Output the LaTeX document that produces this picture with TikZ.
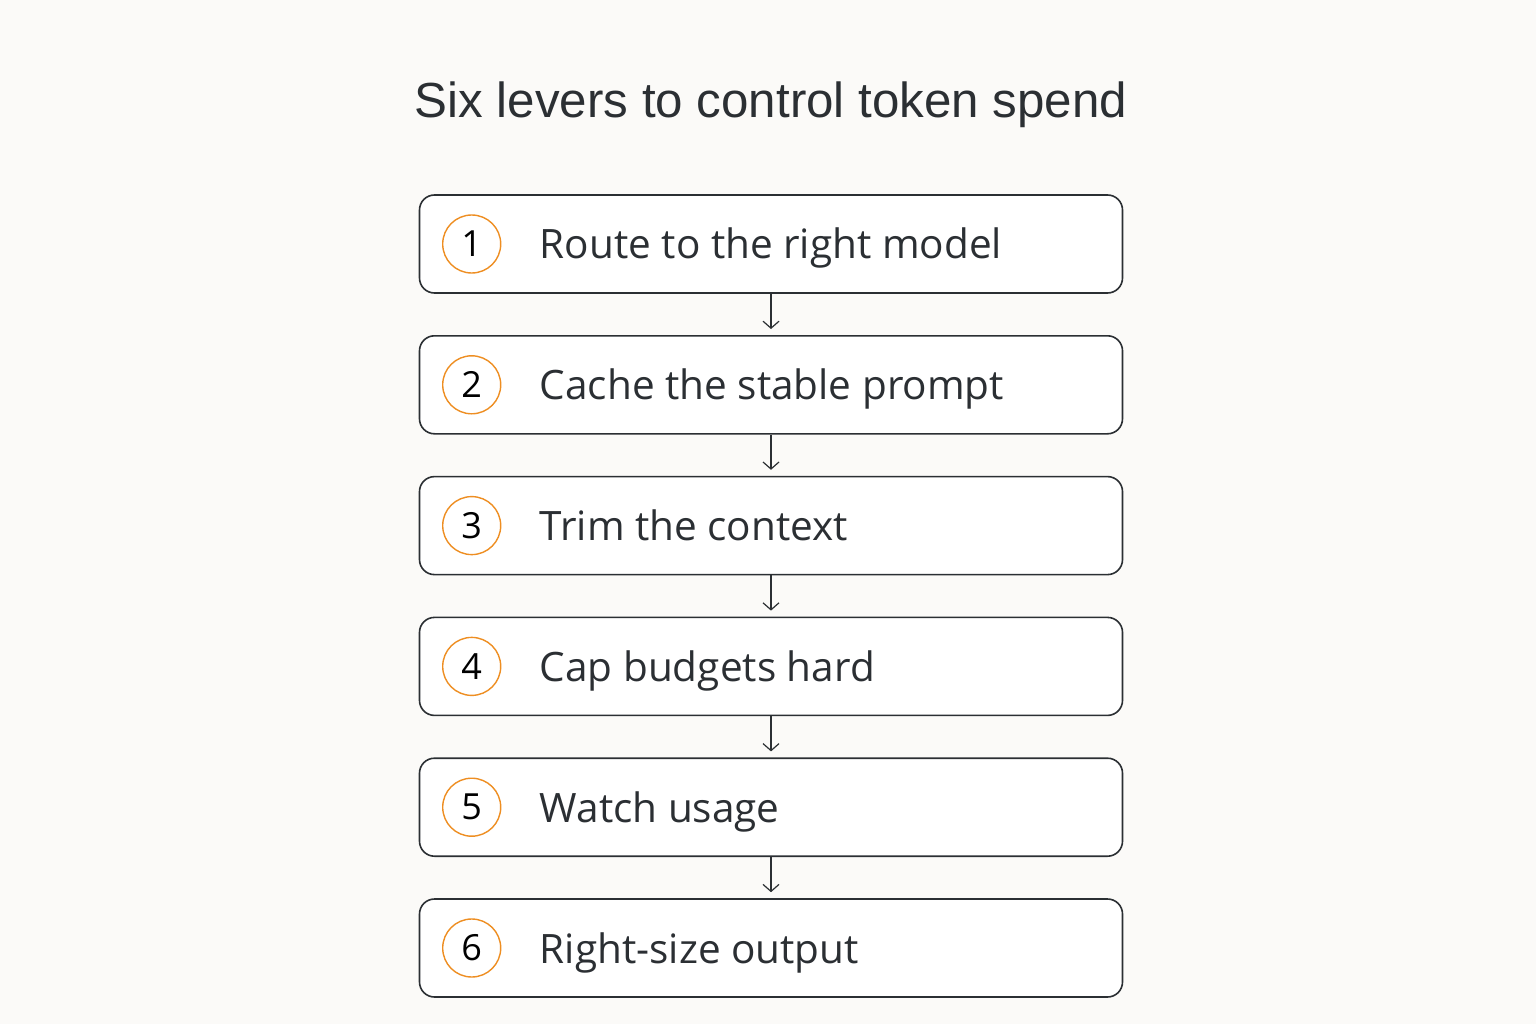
\documentclass[tikz,border=0pt]{standalone}
\usepackage{fontspec}
\setmainfont{Liberation Sans}
\newfontfamily\boxfont{Open Sans}
\usetikzlibrary{positioning,arrows.meta}
\definecolor{bgcol}{HTML}{FBFAF8}
\definecolor{inkcol}{HTML}{2B2F33}
\definecolor{ringcol}{HTML}{EE8E22}

\tikzset{
    lever/.style={draw=inkcol, line width=1.6pt, rounded corners=15pt, fill=white,
                  minimum width=703pt, minimum height=98pt},
    num/.style={circle, draw=ringcol, line width=1.4pt, minimum size=58pt, inner sep=0pt,
                text=black, font=\boxfont\fontsize{36}{40}\selectfont},
    txt/.style={anchor=base west, inner sep=0pt, text=inkcol, font=\boxfont\fontsize{40.5}{46}\selectfont},
    flow/.style={draw=inkcol, line width=1.2pt, -{Straight Barb[length=7pt,width=16pt]}, shorten >=6pt},
}

\begin{document}
\begin{tikzpicture}[x=1pt, y=-1pt]
    \fill[bgcol] (0,0) rectangle (1536,1024);
    \useasboundingbox (0,0) rectangle (1536,1024);
    %
    \node[text=inkcol, font=\fontsize{49.3}{56}\selectfont] (title) at (771,105) {Six levers to control token spend};
    %
    \node[lever] (lever1) at (771,244) {};
    \node[lever, below=41.2pt of lever1] (lever2) {};
    \node[lever, below=41.2pt of lever2] (lever3) {};
    \node[lever, below=41.2pt of lever3] (lever4) {};
    \node[lever, below=41.2pt of lever4] (lever5) {};
    \node[lever, below=41.2pt of lever5] (lever6) {};
    %
    \node[num] (num1) at ([xshift=53pt]lever1.west) {1};
    \node[num] (num2) at ([xshift=53pt]lever2.west) {2};
    \node[num] (num3) at ([xshift=53pt]lever3.west) {3};
    \node[num] (num4) at ([xshift=53pt]lever4.west) {4};
    \node[num] (num5) at ([xshift=53pt]lever5.west) {5};
    \node[num] (num6) at ([xshift=53pt]lever6.west) {6};
    %
    \node[txt] (txt1) at ([xshift=121pt, yshift=-15pt]lever1.west) {Route to the right model};
    \node[txt] (txt2) at ([xshift=121pt, yshift=-15pt]lever2.west) {Cache the stable prompt};
    \node[txt] (txt3) at ([xshift=121pt, yshift=-15pt]lever3.west) {Trim the context};
    \node[txt] (txt4) at ([xshift=121pt, yshift=-15pt]lever4.west) {Cap budgets hard};
    \node[txt] (txt5) at ([xshift=121pt, yshift=-15pt]lever5.west) {Watch usage};
    \node[txt] (txt6) at ([xshift=121pt, yshift=-15pt]lever6.west) {Right-size output};
    %
    \draw[flow] (lever1.south) -- (lever2.north);
    \draw[flow] (lever2.south) -- (lever3.north);
    \draw[flow] (lever3.south) -- (lever4.north);
    \draw[flow] (lever4.south) -- (lever5.north);
    \draw[flow] (lever5.south) -- (lever6.north);
\end{tikzpicture}
\end{document}
